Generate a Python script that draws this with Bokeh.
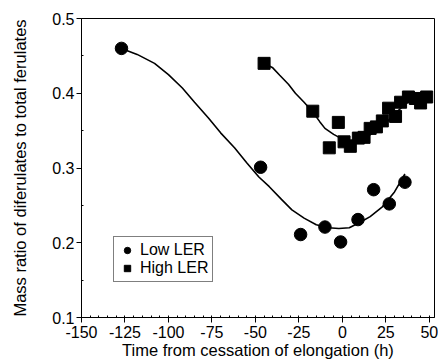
from bokeh.plotting import figure
from bokeh.models import Legend, LegendItem, FixedTicker
from bokeh.embed import file_html
from bokeh.resources import INLINE

# Low LER (circles)
low_t = [-127, -47, -24, -10, -1, 9, 18, 27, 36]
low_r = [0.460, 0.301, 0.211, 0.221, 0.201, 0.231, 0.271, 0.252, 0.281]
# Low LER fitted curve
low_fit_t = [-127, -118, -108, -100, -92, -85, -77, -70, -62, -55, -48, -42, -35,
             -29, -22, -15, -8, -2, 4, 10, 16, 23, 30, 36]
low_fit_r = [0.460, 0.452, 0.440, 0.425, 0.407, 0.388, 0.367, 0.347, 0.327, 0.307,
             0.288, 0.275, 0.258, 0.244, 0.233, 0.224, 0.220, 0.219, 0.220, 0.227,
             0.235, 0.248, 0.268, 0.292]

# High LER (squares)
high_t = [-45, -17, -2.3, -7.5, 1, 4.6, 9.2, 12.5, 16, 19.6, 23, 26.6, 30.6, 33.5,
          38, 42, 45, 48.5]
high_r = [0.440, 0.376, 0.361, 0.327, 0.335, 0.329, 0.340, 0.341, 0.353, 0.355,
          0.363, 0.380, 0.369, 0.388, 0.395, 0.393, 0.387, 0.395]
# High LER fitted curve
high_fit_t = [-45, -40, -36, -31, -27, -22, -17, -13, -10, -5, -1, 4, 10, 15, 20,
              25, 30, 35, 40, 45]
high_fit_r = [0.440, 0.434, 0.424, 0.412, 0.400, 0.388, 0.375, 0.362, 0.353, 0.345,
              0.340, 0.337, 0.338, 0.343, 0.350, 0.360, 0.372, 0.383, 0.392, 0.397]

x_ticks = [-150, -125, -100, -75, -50, -25, 0, 25, 50]
x_tick_labels = ["-150", "-125", "-100", "-75", "-50", "-25", "0", "25", "50"]
y_ticks = [0.1, 0.2, 0.3, 0.4, 0.5]
y_tick_labels = ["0.1", "0.2", "0.3", "0.4", "0.5"]

FONT = "Liberation Sans"

p = figure(width=438, height=361, x_range=(-150, 53), y_range=(0.1, 0.5),
           output_backend="svg", toolbar_location=None,
           min_border_left=81, min_border_right=4, min_border_top=18,
           min_border_bottom=43)
p.grid.visible = False
p.outline_line_color = "black"
p.outline_line_width = 1
p.background_fill_color = "white"
p.border_fill_color = "white"

p.xaxis.ticker = FixedTicker(ticks=x_ticks,
                             minor_ticks=[v for v in range(-150, 55, 5)])
p.yaxis.ticker = FixedTicker(ticks=y_ticks,
                             minor_ticks=[0.15, 0.25, 0.35, 0.45])
p.xaxis.major_label_overrides = {t: s for t, s in zip(x_ticks, x_tick_labels)}
p.yaxis.major_label_overrides = {t: s for t, s in zip(y_ticks, y_tick_labels)}

for ax in (p.xaxis[0], p.yaxis[0]):
    ax.axis_line_color = "black"
    ax.major_tick_line_color = "black"
    ax.minor_tick_line_color = "black"
    ax.major_tick_out = 5
    ax.major_tick_in = 0
    ax.minor_tick_out = 0
    ax.minor_tick_in = 2
    ax.major_label_text_font = FONT
    ax.major_label_text_font_size = "16px"
    ax.major_label_text_color = "black"
    ax.axis_label_text_font = FONT
    ax.axis_label_text_font_size = "16.5px"
    ax.axis_label_text_font_style = "normal"
    ax.axis_label_text_color = "black"

p.xaxis.axis_label = "Time from cessation of elongation (h)"
p.yaxis.axis_label = "Mass ratio of diferulates to total ferulates"
p.xaxis.major_label_standoff = 3
p.xaxis.axis_label_standoff = 0
p.yaxis.major_label_standoff = 2
p.yaxis.axis_label_standoff = 20

p.line(low_fit_t, low_fit_r, line_color="black", line_width=1.6)
p.line(high_fit_t, high_fit_r, line_color="black", line_width=1.6)

r_low = p.scatter(low_t, low_r, marker="circle", size=12.5,
                  fill_color="black", line_color="black")
r_high = p.scatter(high_t, high_r, marker="square", size=12,
                   fill_color="black", line_color="black")

legend = Legend(items=[LegendItem(label="Low LER", renderers=[r_low]),
                       LegendItem(label="High LER", renderers=[r_high])],
                location=(32, 35))
legend.border_line_color = "black"
legend.border_line_width = 1
legend.background_fill_color = "white"
legend.background_fill_alpha = 1
legend.label_text_font = FONT
legend.label_text_font_size = "16px"
legend.label_text_color = "black"
legend.label_height = 16
legend.glyph_height = 16
legend.glyph_width = 18
legend.label_standoff = 4
legend.spacing = 0
legend.padding = 4
legend.margin = 0
p.add_layout(legend, "center")

open("out.html", "w").write(file_html(p, INLINE))
